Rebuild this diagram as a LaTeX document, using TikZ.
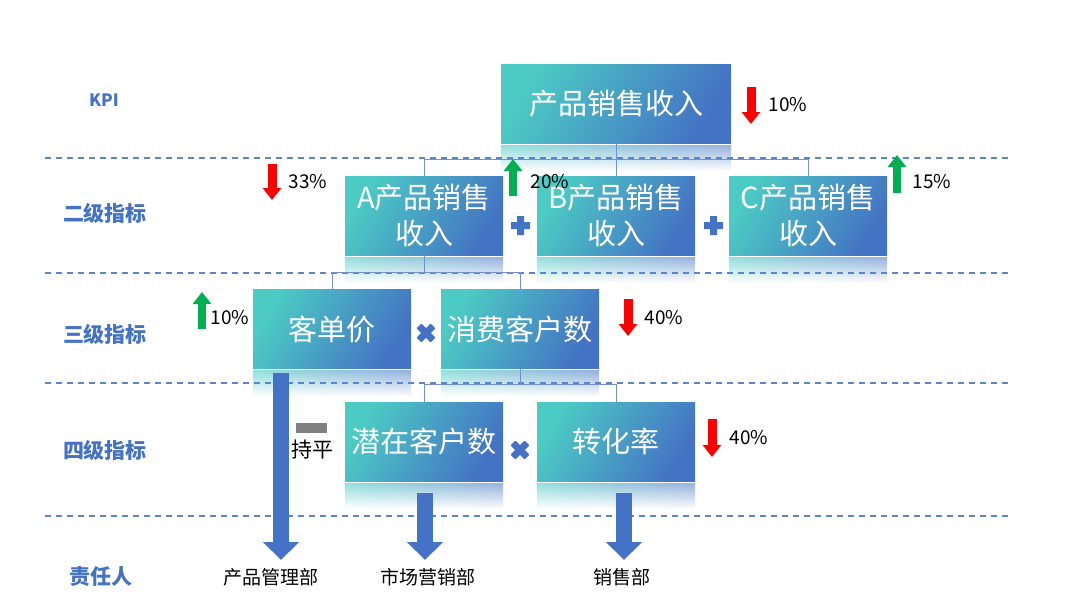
\documentclass[tikz,border=0pt]{standalone}
\usepackage{fontspec}
\setmainfont{Noto Sans CJK SC}
\usepackage{xcolor}
\usetikzlibrary{arrows.meta, fadings}
\definecolor{boxteal}{HTML}{4CCBC4}
\definecolor{boxblue}{HTML}{4472C4}
\definecolor{opblue}{HTML}{4472C4}
\definecolor{lineblue}{HTML}{5A85D0}
\definecolor{linkblue}{HTML}{7590CF}
\definecolor{upgreen}{HTML}{00B050}
\tikzfading[name=reflfade, top color=transparent!0, bottom color=transparent!100]

\begin{document}
\begin{tikzpicture}[x=1pt, y=-1pt,
    kbox/.style={left color=boxteal, right color=boxblue, shading angle=60, text=white,
        font=\fontsize{29}{36}\selectfont, minimum width=158pt, minimum height=79pt,
        align=center, inner sep=0pt},
    refl/.style={left color=boxteal!60, right color=boxblue!55, path fading=reflfade},
    level/.style={text=opblue, font=\fontsize{21}{26}\selectfont\bfseries},
    pct/.style={font=\fontsize{19}{24}\selectfont},
    dept/.style={font=\fontsize{19}{24}\selectfont},
    sep/.style={draw=lineblue, line width=1.3pt, dash pattern=on 6pt off 5pt},
    link/.style={draw=linkblue, line width=0.9pt},
    downarr/.style={draw=red, line width=9pt, -{Triangle[width=18pt,length=12pt]}},
    uparr/.style={draw=upgreen, line width=8pt, -{Triangle[width=18pt,length=12pt]}},
    bigarr/.style={draw=opblue, line width=16pt, -{Triangle[width=35pt,length=18pt]}},
    opplus/.pic={\fill[opblue] (-9.5,-3.5) rectangle (9.5,3.5) (-3.5,-9.5) rectangle (3.5,9.5);},
    optimes/.pic={\fill[opblue, rotate=45, rounded corners=1pt] (-10,-3.5) rectangle (10,3.5) (-3.5,-10) rectangle (3.5,10);}]
    \useasboundingbox (0,0) rectangle (1080,608);

    % indicator boxes
    \node[kbox, minimum width=230pt] (kpi) at (616,103.5) {产品销售收入};
    \node[kbox] (sa) at (424,215.5) {A产品销售\\收入};
    \node[kbox] (sb) at (616,215.5) {B产品销售\\收入};
    \node[kbox] (sc) at (808,215.5) {C产品销售\\收入};
    \node[kbox] (kdj) at (332,329) {客单价};
    \node[kbox] (xf) at (520,329) {消费客户数};
    \node[kbox] (qz) at (424,441.5) {潜在客户数};
    \node[kbox] (zh) at (616,441.5) {转化率};
    \foreach \n in {kpi,sa,sb,sc,kdj,xf,qz,zh}
        \shade[refl] ([yshift=-2pt]\n.south west) rectangle ([yshift=-28pt]\n.south east);

    % level separators
    \foreach \y in {158,273,383,516}
        \draw[sep] (45,\y) -- (1010,\y);

    \node[level, font=\fontsize{17}{20}\selectfont\bfseries] (lkpi) at (104,100) {KPI};
    \node[level] (l2) at (105,213) {二级指标};
    \node[level] (l3) at (105,334) {三级指标};
    \node[level] (l4) at (105,450) {四级指标};
    \node[level] (lp) at (101,577) {责任人};

    % tree links
    \draw[link] (kpi.south) -- ++(0,16) -| (sa.north);
    \draw[link] (kpi.south) -- ++(0,16) -| (sc.north);
    \draw[link] (kpi.south) -- (sb.north);
    \draw[link] (sa.south) -- ++(0,17) -| (kdj.north);
    \draw[link] (sa.south) -- ++(0,17) -| (xf.north);
    \draw[link] (xf.south) -- ++(0,16) -| (qz.north);
    \draw[link] (xf.south) -- ++(0,16) -| (zh.north);

    \pic at (520.5,225.5) {opplus};
    \pic at (713.5,225.5) {opplus};
    \pic at (426,333) {optimes};
    \pic at (520,450) {optimes};

    % trends
    \draw[downarr] (751,87) -- (751,124);
    \node[pct] (kpipct) at (788,105) {10\%};
    \draw[downarr] (272,164) -- (272,200);
    \node[pct] (apct) at (308,182) {33\%};
    \draw[uparr] (513,196) -- (513,159);
    \node[pct] (bpct) at (550,182) {20\%};
    \draw[uparr] (897,193) -- (897,155);
    \node[pct] (cpct) at (932,182) {15\%};
    \draw[uparr] (202,329) -- (202,292);
    \node[pct] (kdjpct) at (230,318) {10\%};
    \draw[downarr] (628,299) -- (628,336);
    \node[pct] (xfpct) at (664,318) {40\%};
    \draw[downarr] (712,419) -- (712,457);
    \node[pct] (zhpct) at (749,438) {40\%};
    \fill[gray] (296,423) rectangle (327,433);
    \node[font=\fontsize{21}{24}\selectfont] (qzflat) at (312,450) {持平};

    % owners
    \node[dept] (pm) at (271,577) {产品管理部};
    \node[dept] (mk) at (428,577) {市场营销部};
    \node[dept] (xs) at (622,577) {销售部};
    \coordinate (pmend) at (281,560);
    \coordinate (mkend) at (425,560);
    \coordinate (xsend) at (624,560);
    \draw[bigarr, shorten <=4pt] (pmend |- kdj.south) -- (pmend);
    \draw[bigarr, shorten <=12pt] (mkend |- qz.south) -- (mkend);
    \draw[bigarr, shorten <=12pt] (xsend |- zh.south) -- (xsend);
\end{tikzpicture}
\end{document}
